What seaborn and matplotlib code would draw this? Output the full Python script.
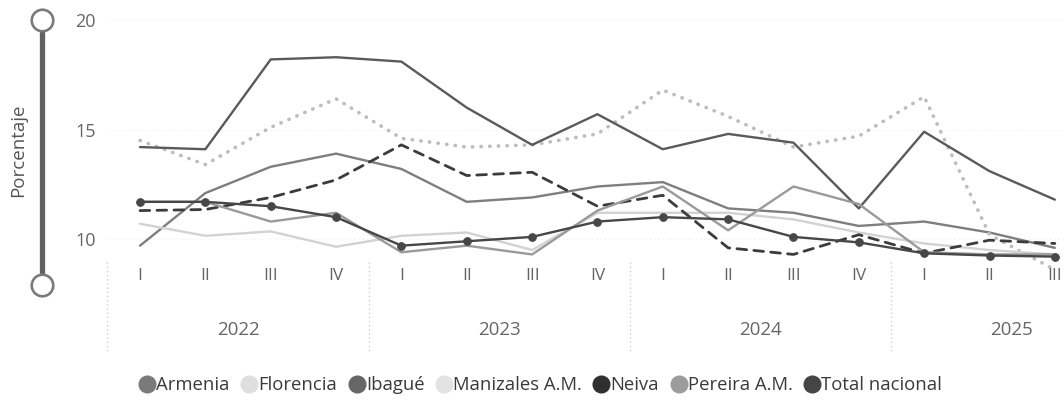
import numpy as np
import pandas as pd
import matplotlib
matplotlib.use("Agg")
import matplotlib.pyplot as plt
import matplotlib.transforms as mtransforms
from matplotlib.lines import Line2D
import seaborn as sns

# ---------------- data ----------------
quarters = ["I", "II", "III", "IV", "I", "II", "III", "IV",
            "I", "II", "III", "IV", "I", "II", "III"]
years = ["2022"] * 4 + ["2023"] * 4 + ["2024"] * 4 + ["2025"] * 3
year_labels = ["2022", "2023", "2024", "2025"]

armenia = [9.7, 12.1, 13.3, 13.9, 13.2, 11.7, 11.9, 12.4, 12.6, 11.4, 11.2, 10.6, 10.8, 10.3, 9.6]
florencia = [14.5, 13.4, 15.1, 16.4, 14.6, 14.2, 14.3, 14.8, 16.8, 15.6, 14.2, 14.7, 16.5, 10.2, 8.6]
ibague = [14.2, 14.1, 18.2, 18.3, 18.1, 16.0, 14.3, 15.7, 14.1, 14.8, 14.4, 11.4, 14.9, 13.1, 11.8]
manizales = [10.7, 10.15, 10.35, 9.65, 10.15, 10.3, 9.5, 11.2, 11.2, 11.2, 10.9, 10.3, 9.8, 9.5, 9.3]
neiva = [11.3, 11.35, 11.9, 12.7, 14.3, 12.9, 13.05, 11.5, 12.0, 9.6, 9.3, 10.2, 9.35, 9.95, 9.8]
pereira = [11.7, 11.7, 10.8, 11.2, 9.4, 9.7, 9.3, 11.3, 12.4, 10.4, 12.4, 11.6, 9.4, 9.3, 9.3]
total = [11.7, 11.7, 11.5, 11.0, 9.7, 9.9, 10.1, 10.8, 11.0, 10.9, 10.1, 9.85, 9.35, 9.25, 9.2]

series_names = ["Armenia", "Florencia", "Ibagué", "Manizales A.M.", "Neiva",
                "Pereira A.M.", "Total nacional"]
series_values = [armenia, florencia, ibague, manizales, neiva, pereira, total]

y_ticks = [10, 15, 20]

# ---------------- styles ----------------
colors = {
    "Armenia": "#7e7e7e",
    "Florencia": "#bdbdbd",
    "Ibagué": "#5a5a5a",
    "Manizales A.M.": "#d2d2d2",
    "Neiva": "#3c3c3c",
    "Pereira A.M.": "#9a9a9a",
    "Total nacional": "#474747",
}
legend_colors = {
    "Armenia": "#7a7a7a",
    "Florencia": "#dedede",
    "Ibagué": "#666666",
    "Manizales A.M.": "#e3e3e3",
    "Neiva": "#303030",
    "Pereira A.M.": "#9c9c9c",
    "Total nacional": "#454545",
}
linestyles = {
    "Armenia": "-",
    "Florencia": (0, (0.1, 2.3)),
    "Ibagué": "-",
    "Manizales A.M.": "-",
    "Neiva": (0, (3.5, 2.6)),
    "Pereira A.M.": "-",
    "Total nacional": "-",
}
widths = {"Florencia": 2.6, "Neiva": 2.0}

sns.set_theme(style="white")
plt.rcParams["font.family"] = ["Open Sans", "DejaVu Sans"]

W, H = 1064, 401
fig = plt.figure(figsize=(W / 100, H / 100), dpi=100)
ax_left, ax_right = 108 / W, 1.0
ax_top, ax_bot = 1 - 15.6 / H, 1 - 284 / H
ax = fig.add_axes([ax_left, ax_bot, ax_right - ax_left, ax_top - ax_bot])

x = np.arange(len(quarters))

for yv in y_ticks:
    ax.axhline(yv, color="#f1f1f1", lw=1, ls=(0, (1, 2)), zorder=0)

for name, vals in zip(series_names, series_values):
    df = pd.DataFrame({"x": x, "y": vals})
    kw = dict(color=colors[name], linewidth=widths.get(name, 1.7),
              linestyle=linestyles[name], dash_capstyle="round",
              solid_capstyle="round", ax=ax, legend=False, clip_on=False)
    if name == "Total nacional":
        kw.update(marker="o", markersize=5.5, markeredgecolor=colors[name],
                  markerfacecolor=colors[name], zorder=5)
    sns.lineplot(data=df, x="x", y="y", **kw)

ax.set_xlim(-0.49, 14.14)
ax.set_ylim(7.95, 20.2)
for s in ax.spines.values():
    s.set_visible(False)
ax.set_xlabel("")
ax.set_ylabel("")
ax.set_yticks(y_ticks)
ax.set_yticklabels([str(t) for t in y_ticks])
ax.set_xticks([])
ax.tick_params(axis="y", length=0, pad=9, labelsize=13, labelcolor="#666666")

# quarter labels, year group labels and separators
trans = mtransforms.blended_transform_factory(ax.transData, fig.transFigure)
for xi, q in zip(x, quarters):
    ax.text(xi, 1 - 276 / H, q, transform=trans, ha="center", va="center",
            fontsize=12.5, color="#666666")
groups = pd.Series(years)
starts = []
for yl in year_labels:
    idx = np.where(groups.values == yl)[0]
    starts.append(idx[0])
    center = (idx[0] + idx[-1]) / 2 if len(idx) == 4 else idx[0] + 1.33
    ax.text(center, 1 - 330 / H, yl, transform=trans, ha="center", va="center",
            fontsize=13.5, color="#666666")
for st in starts:
    ax.plot([st - 0.5, st - 0.5], [1 - 262 / H, 1 - 352 / H], transform=trans,
            color="#cfcfcf", lw=1, ls=(0, (1, 2)), clip_on=False)

# y zoom slider decoration
sx = 42 / W
fig.add_artist(Line2D([sx, sx], [1 - 30 / H, 1 - 275 / H], transform=fig.transFigure,
                      color="#606060", lw=3.8, solid_capstyle="butt"))
for cy in (20, 285):
    fig.add_artist(Line2D([sx], [1 - cy / H], transform=fig.transFigure, marker="o",
                          markersize=15.5, markerfacecolor="white",
                          markeredgecolor="#7a7a7a", markeredgewidth=1.9, lw=0))

fig.text(18 / W, 1 - 150 / H, "Porcentaje", rotation=90, ha="center", va="center",
         fontsize=13.5, color="#555555")

# legend
handles = [Line2D([0], [0], marker="o", lw=0, markersize=12,
                  markerfacecolor=legend_colors[n], markeredgecolor=legend_colors[n])
           for n in series_names]
fig.legend(handles, series_names, loc="center", bbox_to_anchor=(0.508, 1 - 385 / H),
           ncol=7, frameon=False, fontsize=13.3, handletextpad=0.05,
           columnspacing=0.6, handlelength=0.9, labelcolor="#3a3a3a")

fig.savefig("out.png", dpi=100)
